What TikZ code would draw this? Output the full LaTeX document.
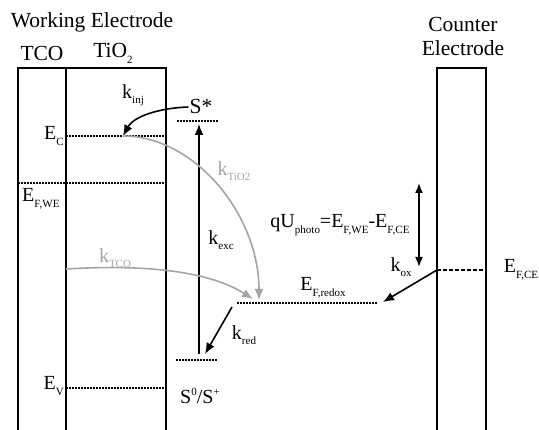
\documentclass[tikz,border=0pt]{standalone}
\usepackage{fontspec}
\setmainfont{Liberation Serif}
\usetikzlibrary{arrows.meta}
\definecolor{lgray}{RGB}{165,165,165}
\newcommand{\mysb}[1]{\raisebox{-0.6ex}{\fontsize{11}{11}\selectfont #1}}
\newcommand{\mysp}[1]{\raisebox{0.85ex}{\fontsize{11}{11}\selectfont #1}}
\tikzset{
  frame/.style={line width=1.7pt},
  level/.style={line width=1.6pt, dash pattern=on 1.6pt off 1.4pt},
  dlevel/.style={line width=1.6pt, dash pattern=on 4pt off 2pt},
  big/.style={font=\fontsize{21.5}{23}\selectfont, inner sep=0pt},
  lab/.style={font=\fontsize{20}{22}\selectfont, inner sep=0pt},
  arr/.style={line width=1.6pt, -{Latex[length=11pt,width=9pt]}},
  garr/.style={line width=1.6pt, lgray, -{Latex[length=11pt,width=9pt]}},
}
\begin{document}
\begin{tikzpicture}[x=1pt,y=-1pt]
\useasboundingbox (0,0) rectangle (539,430);
% frames
\coordinate (tl) at (18,68); \coordinate (tm) at (66,68); \coordinate (tr) at (166,68);
\coordinate (bl) at (18,432); \coordinate (bm) at (66,432); \coordinate (br) at (166,432);
\draw[frame] (bl) -- (tl) -- (tr) -- (br);
\draw[frame] (tm) -- (bm);
\coordinate (cl) at (437,68); \coordinate (cr) at (486,68);
\coordinate (cbl) at (437,432); \coordinate (cbr) at (486,432);
\draw[frame] (cbl) -- (cl) -- (cr) -- (cbr);
% headings
\node[big] (we) at (92,22) {Working Electrode};
\node[big] (tco) at (42,53) {TCO};
\node[big] (tio) at (113,53) {TiO\mysb{2}};
\node[big] (ce1) at (463,24) {Counter};
\node[big] (ce2) at (463,48) {Electrode};
% levels
\coordinate (ec1) at (66,136); \coordinate (ec2) at (166,136); \coordinate (ecm) at (123,136);
\draw[level] (ec1) -- (ec2);
\node[lab, anchor=east] (eclab) at (64,136) {E\mysb{C}};
\coordinate (ef1) at (18,183); \coordinate (ef2) at (166,183);
\draw[level] (ef1) -- (ef2);
\node[lab, anchor=west] (eflab) at (22,199) {E\mysb{F,WE}};
\coordinate (ev1) at (66,388); \coordinate (ev2) at (166,388);
\draw[level] (ev1) -- (ev2);
\node[lab, anchor=east] (evlab) at (64,386) {E\mysb{V}};
\coordinate (ss1) at (177,121); \coordinate (ss2) at (218,121);
\draw[level] (ss1) -- (ss2);
\node[big] (sstar) at (201,106) {S*};
\coordinate (s01) at (176,360); \coordinate (s02) at (218,360);
\draw[level] (s01) -- (s02);
\node[lab] (s0lab) at (200,396) {S\mysp{0}/S\mysp{+}};
\coordinate (rx1) at (237,303); \coordinate (rx2) at (377,303);
\draw[level] (rx1) -- (rx2);
\node[lab] (rxlab) at (323,288) {E\mysb{F,redox}};
\coordinate (ce1l) at (437,270); \coordinate (ce1r) at (486,270);
\draw[dlevel] (ce1l) -- (ce1r);
\node[lab] (eflce) at (521,270) {E\mysb{F,CE}};
% arrows
\draw[arr] (sstar.west) ++(-1,1) .. controls (160,108) and (134,116) .. (ecm);
\node[lab] (kinj) at (133,95) {k\mysb{inj}};
\coordinate (exb) at (199,354); \coordinate (ext) at (199,124);
\draw[arr] (exb) -- (ext);
\node[lab] (kexc) at (221,240) {k\mysb{exc}};
\coordinate (tiend) at (259,300);
\draw[garr] (ecm) .. controls (195,136) and (259,215) .. (tiend);
\node[lab, text=lgray] (ktio) at (234,171) {k\mysb{TiO2}};
\coordinate (tcos) at (66,269); \coordinate (tcoe) at (253,299);
\draw[garr] (tcos) .. controls (150,264) and (210,272) .. (tcoe);
\node[lab, text=lgray] (ktco) at (115,258) {k\mysb{TCO}};
\coordinate (rds) at (232,307); \coordinate (rde) at (205,354);
\draw[arr] (rds) -- (rde);
\node[lab] (kred) at (244,335) {k\mysb{red}};
\coordinate (oxe) at (383,302);
\draw[arr] (ce1l) -- (oxe);
\node[lab] (kox) at (401,267) {k\mysb{ox}};
\coordinate (qa) at (419,183); \coordinate (qb) at (419,267);
\draw[line width=1.6pt, {Latex[length=10pt,width=8pt]}-{Latex[length=10pt,width=8pt]}] (qa) -- (qb);
\node[lab] (qu) at (340,225) {qU\mysb{photo}=E\mysb{F,WE}-E\mysb{F,CE}};
\end{tikzpicture}
\end{document}
